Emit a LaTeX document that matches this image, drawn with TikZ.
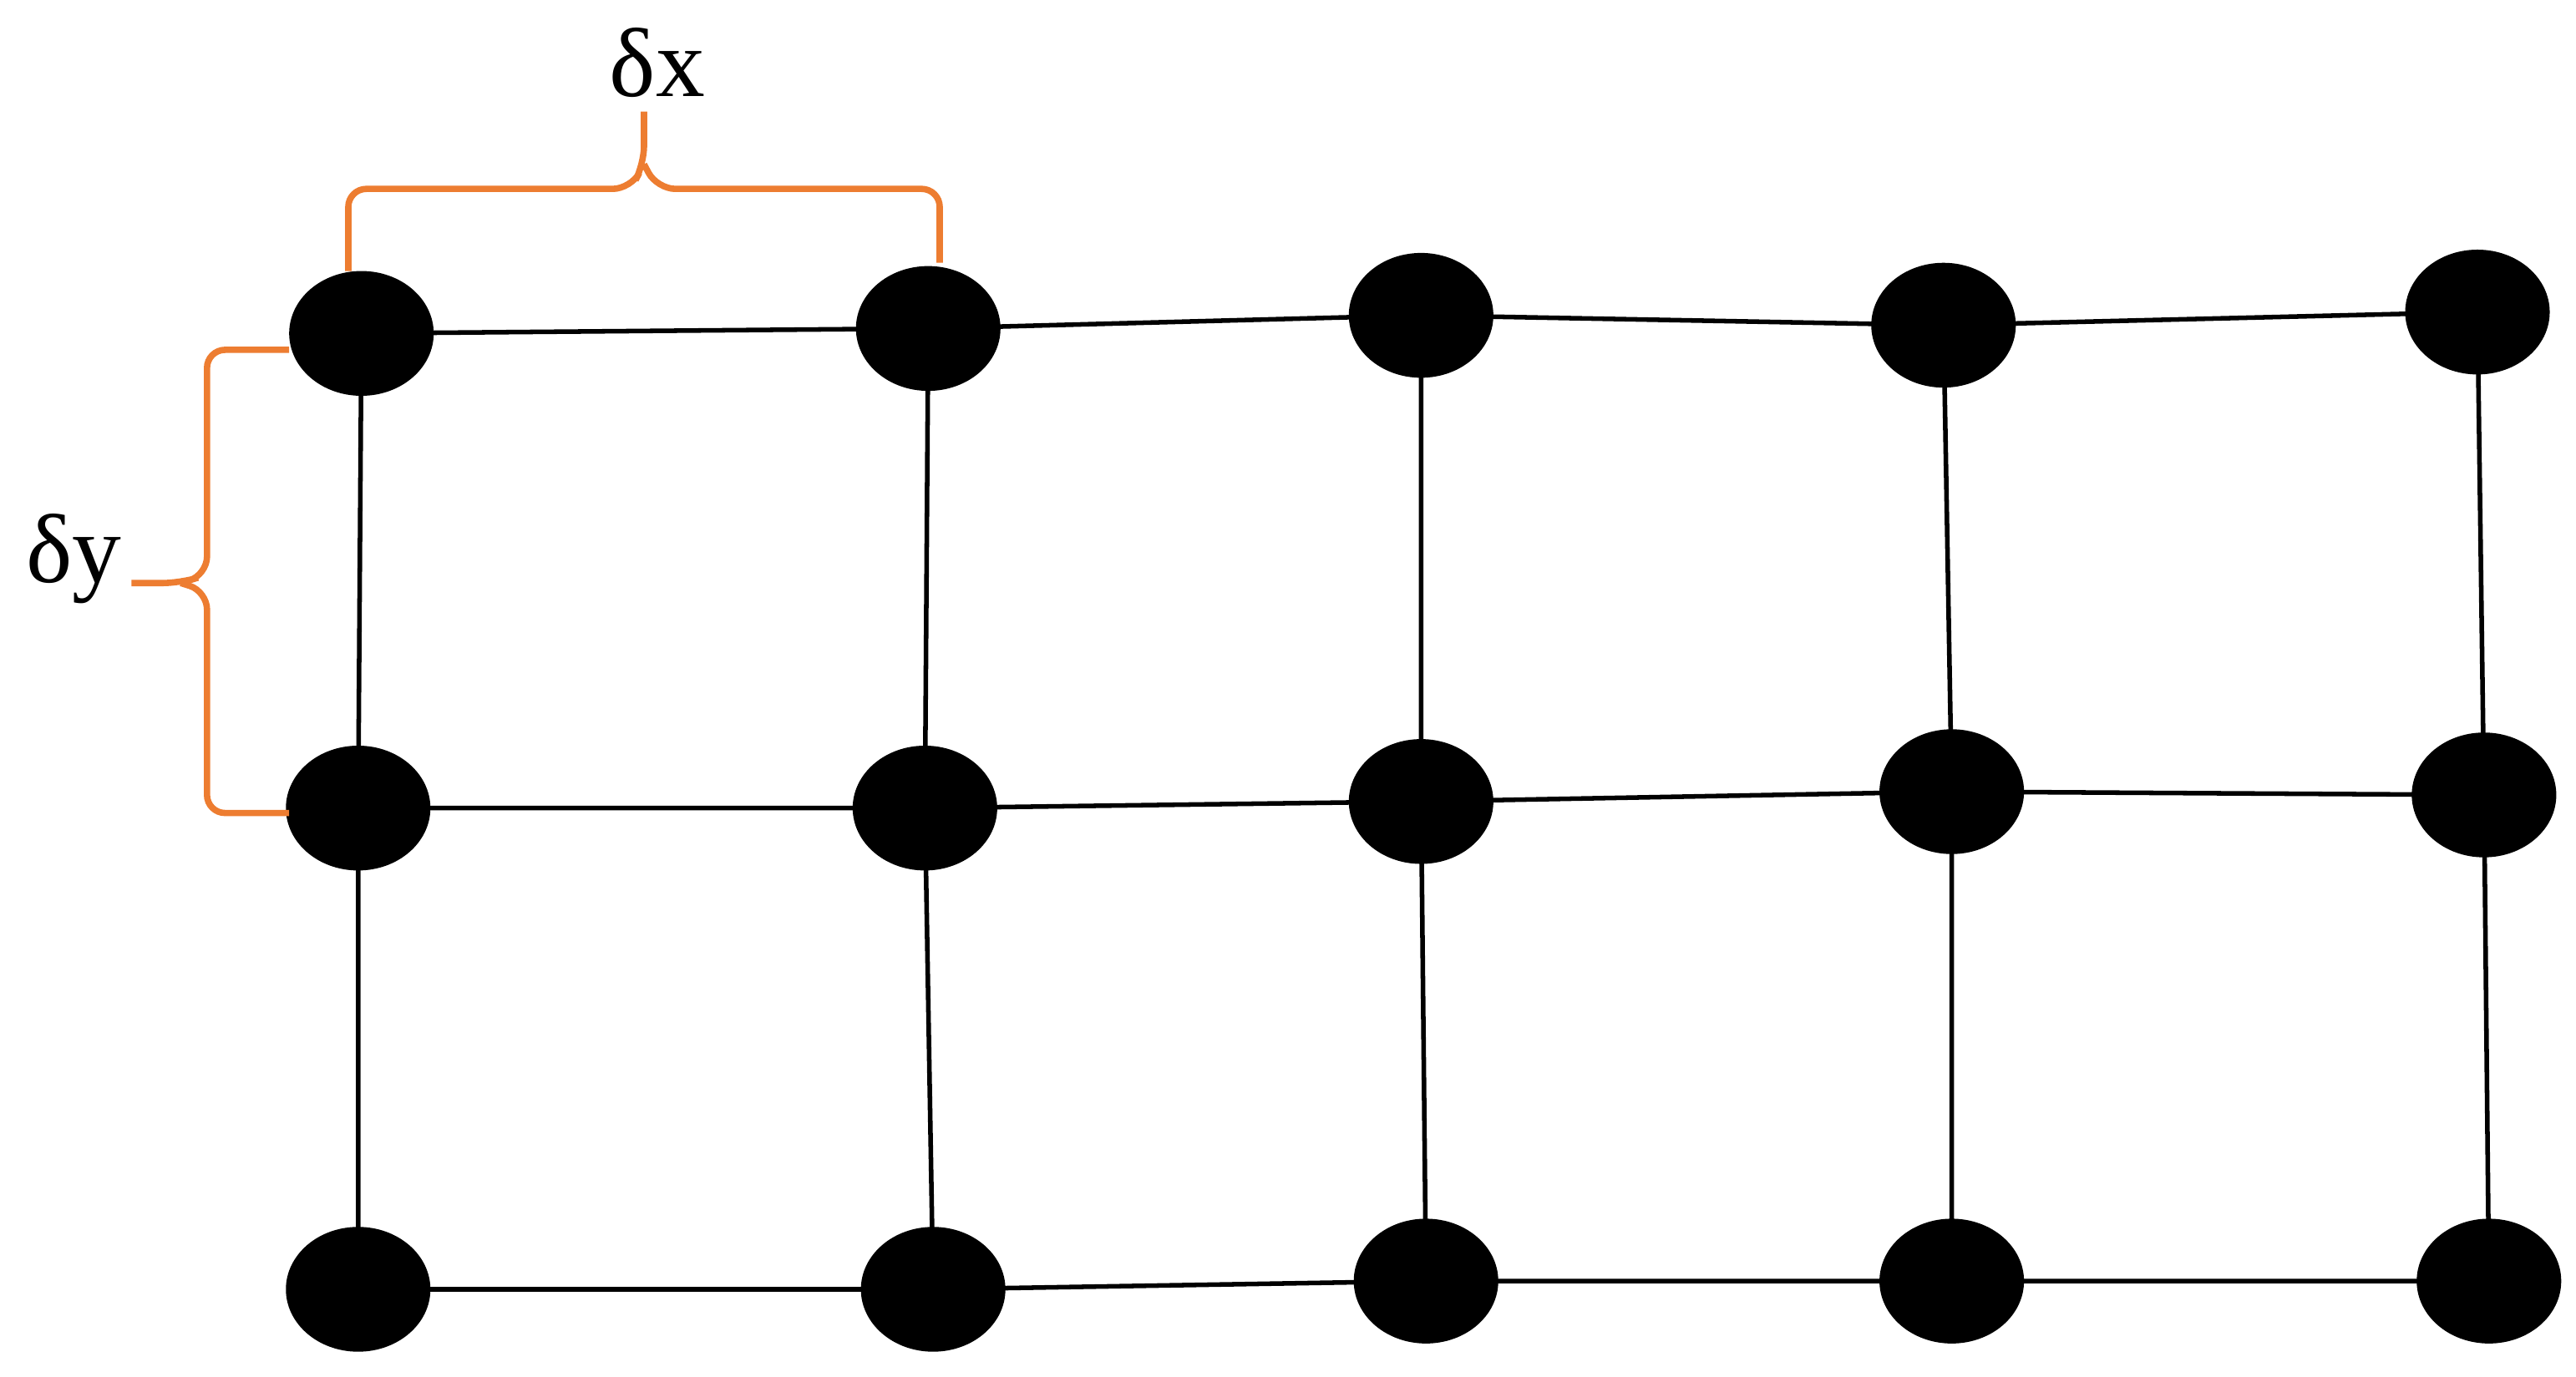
\documentclass[tikz,border=0pt]{standalone}
\usepackage{fontspec}
\setmainfont{Liberation Serif}
\usetikzlibrary{shapes.geometric}
\definecolor{brace}{RGB}{237,125,49}
\begin{document}
\begin{tikzpicture}[x=0.02cm,y=-0.02cm,
  dot/.style={ellipse,fill=black,draw=none,minimum width=1.76cm,minimum height=1.52cm,inner sep=0},
  grid/.style={line width=1.6pt,black},
  br/.style={line width=2.2pt,brace,rounded corners=0.22cm},
  lab/.style={font=\fontsize{34}{40}\selectfont,inner sep=0}]
\useasboundingbox (0,0) rectangle (1568,838);
\foreach \n/\x/\y in {a1/220/203,a2/565/200,a3/865/192,a4/1183/198,a5/1508/190,
  b1/218/492,b2/563/492,b3/865/488,b4/1188/482,b5/1512/484,
  c1/218/785,c2/568/785,c3/868/780,c4/1188/780,c5/1515/780}
  \coordinate (\n) at (\x,\y);
\begin{scope}[on background layer/.style={}]
\draw[grid] (a1) -- (a2) -- (a3) -- (a4) -- (a5);
\draw[grid] (b1) -- (b2) -- (b3) -- (b4) -- (b5);
\draw[grid] (c1) -- (c2) -- (c3) -- (c4) -- (c5);
\foreach \i in {1,...,5} \draw[grid] (a\i) -- (b\i) -- (c\i);
\end{scope}
\foreach \n in {a1,a2,a3,a4,a5,b1,b2,b3,b4,b5,c1,c2,c3,c4,c5}
  \node[dot] (N\n) at (\n) {};
% delta x brace
\coordinate (xl) at (212,165);
\coordinate (xr) at (572,160);
\coordinate (xt) at (392,68);
\draw[br] (xl) -- (212,115) -- (384,115) -- (392,100) -- (xt);
\draw[br] (xr) -- (572,115) -- (400,115) -- (392,100);
\node[lab] (dx) at (400,38) {δx};
% delta y brace
\coordinate (yt) at (176,213);
\coordinate (yb) at (176,495);
\coordinate (yp) at (80,355);
\draw[br] (yt) -- (126,213) -- (126,350) -- (110,355) -- (yp);
\draw[br] (yb) -- (126,495) -- (126,360) -- (110,355);
\node[lab] (dy) at (45,340) {δy};
\end{tikzpicture}
\end{document}
